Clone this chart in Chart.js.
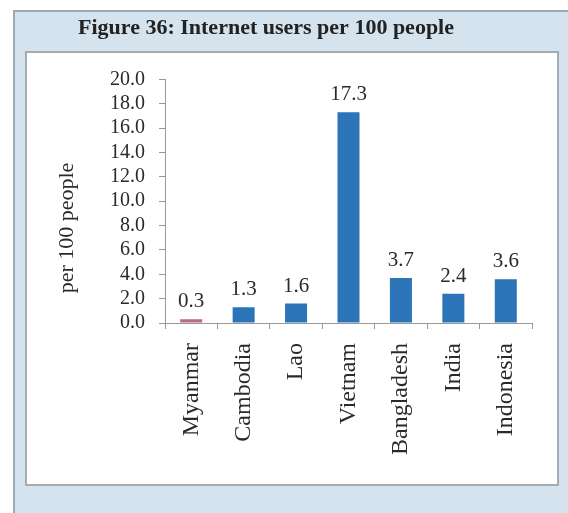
<!DOCTYPE html>
<html>
<head>
<meta charset="utf-8">
<title>Internet users per 100 people</title>
<script src="https://cdn.jsdelivr.net/npm/chart.js@4/dist/chart.umd.min.js"></script>
<style>
  body { margin: 0; background: #fff; }
  canvas { display: block; }
</style>
</head>
<body>
<canvas id="usersChart" width="568" height="513"></canvas>
<script>
const countries = ['Myanmar', 'Cambodia', 'Lao', 'Vietnam', 'Bangladesh', 'India', 'Indonesia'];
const usersPer100 = [0.3, 1.3, 1.6, 17.3, 3.7, 2.4, 3.6];
const barColors = ['#b76e7e', '#2b74b8', '#2b74b8', '#2b74b8', '#2b74b8', '#2b74b8', '#2b74b8'];
const yTicks = [0, 2, 4, 6, 8, 10, 12, 14, 16, 18, 20];

const serif = "'Liberation Serif', 'Times New Roman', serif";

// panel background, inner white box, rotated y title
const panelPlugin = {
    id: 'panel',
    beforeDraw(chart) {
        const ctx = chart.ctx;
        ctx.save();
        ctx.fillStyle = '#ffffff';
        ctx.fillRect(0, 0, chart.width, chart.height);
        ctx.fillStyle = '#d5e3ee';
        ctx.fillRect(13, 10, chart.width - 13, chart.height - 10);
        ctx.strokeStyle = '#9ea9b4';
        ctx.lineWidth = 2;
        ctx.beginPath();
        ctx.moveTo(13, 11); ctx.lineTo(chart.width, 11);
        ctx.moveTo(14, 10); ctx.lineTo(14, chart.height);
        ctx.stroke();
        ctx.fillStyle = '#ffffff';
        ctx.fillRect(27, 53, 530, 431);
        ctx.strokeStyle = '#a3abb3';
        ctx.strokeRect(26, 52, 532, 433);
        ctx.restore();
    },
    afterDraw(chart) {
        const ctx = chart.ctx;
        ctx.save();
        ctx.translate(67, 228);
        ctx.rotate(-Math.PI / 2);
        ctx.font = '22px ' + serif;
        ctx.fillStyle = '#2a2a2a';
        ctx.textAlign = 'center';
        ctx.textBaseline = 'middle';
        ctx.fillText('per 100 people', 0, 0);
        ctx.restore();
    }
};

// value above each bar
const valueLabels = {
    id: 'valueLabels',
    afterDatasetsDraw(chart) {
        const ctx = chart.ctx;
        const meta = chart.getDatasetMeta(0);
        ctx.save();
        ctx.font = '21px ' + serif;
        ctx.fillStyle = '#2a2a2a';
        ctx.textAlign = 'center';
        ctx.textBaseline = 'alphabetic';
        meta.data.forEach((bar, i) => {
            ctx.fillText(usersPer100[i].toFixed(1), bar.x, bar.y - 12);
        });
        ctx.restore();
    }
};

new Chart(document.getElementById('usersChart'), {
    type: 'bar',
    data: {
        labels: countries,
        datasets: [{
            data: usersPer100,
            backgroundColor: barColors,
            borderWidth: 0,
            categoryPercentage: 1,
            barPercentage: 0.42
        }]
    },
    options: {
        responsive: false,
        animation: false,
        layout: { padding: { left: 0, right: 36, top: 0, bottom: 0 } },
        plugins: {
            legend: { display: false },
            tooltip: { enabled: false },
            title: {
                display: true,
                text: 'Figure 36: Internet users per 100 people',
                color: '#222',
                font: { family: serif, size: 22, weight: 'bold' },
                padding: { top: 15, bottom: 38 }
            }
        },
        scales: {
            x: {
                afterFit(scale) { scale.height = 190; },
                grid: { drawOnChartArea: false, offset: true, tickLength: 6, color: '#999' },
                border: { color: '#999' },
                ticks: {
                    minRotation: 90,
                    maxRotation: 90,
                    padding: 14,
                    color: '#2a2a2a',
                    font: { family: serif, size: 24 }
                }
            },
            y: {
                min: 0,
                max: 20,
                afterFit(scale) { scale.width = 165; },
                afterBuildTicks(scale) { scale.ticks = yTicks.map(v => ({ value: v })); },
                grid: { drawOnChartArea: false, tickLength: 6, color: '#999' },
                border: { color: '#999' },
                ticks: {
                    autoSkip: false,
                    padding: 14,
                    color: '#2a2a2a',
                    font: { family: serif, size: 20 },
                    callback: v => v.toFixed(1)
                }
            }
        }
    },
    plugins: [panelPlugin, valueLabels]
});
</script>
</body>
</html>
